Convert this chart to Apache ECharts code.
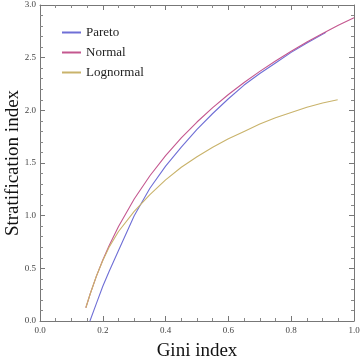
<!DOCTYPE html>
<html>
<head>
<meta charset="utf-8">
<script src="https://cdn.jsdelivr.net/npm/echarts@6/dist/echarts.min.js"></script>
<style>
  html, body { margin: 0; padding: 0; background: #fff; }
  #chart { width: 361px; height: 360px; }
</style>
</head>
<body>
<div id="chart"></div>
<script>
// values: [gini, stratification]
var paretoGini = [0.159, 0.18, 0.20, 0.22, 0.25, 0.30, 0.35, 0.40, 0.45, 0.50, 0.55, 0.60, 0.65, 0.70, 0.75, 0.80, 0.85, 0.911];
var paretoStrat = [0.0, 0.17, 0.33, 0.47, 0.67, 1.00, 1.26, 1.47, 1.65, 1.82, 1.97, 2.11, 2.24, 2.35, 2.45, 2.55, 2.64, 2.74];

var normalGini = [0.146, 0.16, 0.18, 0.20, 0.22, 0.25, 0.30, 0.35, 0.40, 0.45, 0.50, 0.55, 0.60, 0.65, 0.70, 0.75, 0.80, 0.85, 0.90, 0.95, 1.00];
var normalStrat = [0.126, 0.259, 0.428, 0.579, 0.715, 0.898, 1.158, 1.379, 1.570, 1.738, 1.889, 2.025, 2.150, 2.264, 2.370, 2.469, 2.561, 2.648, 2.729, 2.807, 2.88];

var lognormalGini = [0.146, 0.16, 0.18, 0.20, 0.22, 0.25, 0.30, 0.35, 0.40, 0.45, 0.50, 0.55, 0.60, 0.65, 0.70, 0.75, 0.80, 0.85, 0.90, 0.948];
var lognormalStrat = [0.126, 0.259, 0.43, 0.575, 0.70, 0.85, 1.04, 1.20, 1.34, 1.46, 1.56, 1.65, 1.73, 1.80, 1.87, 1.93, 1.98, 2.03, 2.07, 2.10];

var seriesNames = ['Pareto', 'Normal', 'Lognormal'];
var seriesColors = ['#6f6fd6', '#c4578f', '#c9b36b'];

var zip = function (xs, ys) {
  return xs.map(function (x, i) { return [x, ys[i]]; });
};

var chart = echarts.init(document.getElementById('chart'));

var serif = 'Liberation Serif, Times New Roman, serif';
var axisLine = { show: true, onZero: false, lineStyle: { color: '#777', width: 1 } };
var tick = { show: true, inside: true, length: 5, lineStyle: { color: '#777' } };
var minor = function (n) {
  return { show: true, splitNumber: n, length: 3, lineStyle: { color: '#888' } };
};
var tickLabel = { color: '#444', fontFamily: serif, fontSize: 9 };

var option = {
  animation: false,
  grid: { left: 40, right: 7, top: 5, bottom: 39, outerBoundsMode: 'none', containLabel: false },
  legend: {
    orient: 'vertical',
    left: 57,
    top: 21,
    itemWidth: 19,
    itemHeight: 2,
    itemGap: 7,
    icon: 'rect',
    textStyle: { fontFamily: serif, fontSize: 13, color: '#222' },
    data: seriesNames
  },
  xAxis: [
    {
      type: 'value', min: 0, max: 1, interval: 0.2,
      name: 'Gini index', nameLocation: 'middle', nameGap: 21, nameMoveOverlap: false,
      nameTextStyle: { fontFamily: serif, fontSize: 19, color: '#111' },
      axisLine: axisLine, axisTick: tick, minorTick: minor(4),
      splitLine: { show: false },
      axisLabel: Object.assign({ margin: 5, formatter: function (v) { return v.toFixed(1); } }, tickLabel)
    },
    {
      type: 'value', position: 'top', min: 0, max: 1, interval: 0.2,
      axisLine: axisLine, axisTick: tick, minorTick: minor(4),
      splitLine: { show: false }, axisLabel: { show: false }
    }
  ],
  yAxis: [
    {
      type: 'value', min: 0, max: 3, interval: 0.5,
      name: 'Stratification index', nameLocation: 'middle', nameGap: 17, nameMoveOverlap: false,
      nameTextStyle: { fontFamily: serif, fontSize: 19, color: '#111' },
      axisLine: axisLine, axisTick: tick, minorTick: minor(5),
      splitLine: { show: false },
      axisLabel: Object.assign({ margin: 4, formatter: function (v) { return v.toFixed(1); } }, tickLabel)
    },
    {
      type: 'value', position: 'right', min: 0, max: 3, interval: 0.5,
      axisLine: axisLine, axisTick: tick, minorTick: minor(5),
      splitLine: { show: false }, axisLabel: { show: false }
    }
  ],
  series: [
    { name: seriesNames[0], data: zip(paretoGini, paretoStrat) },
    { name: seriesNames[1], data: zip(normalGini, normalStrat) },
    { name: seriesNames[2], data: zip(lognormalGini, lognormalStrat) }
  ].map(function (s, i) {
    return {
      name: s.name,
      type: 'line',
      data: s.data,
      showSymbol: false,
      smooth: false,
      color: seriesColors[i],
      lineStyle: { width: 1.1, color: seriesColors[i] }
    };
  })
};

chart.setOption(option);
</script>
</body>
</html>
